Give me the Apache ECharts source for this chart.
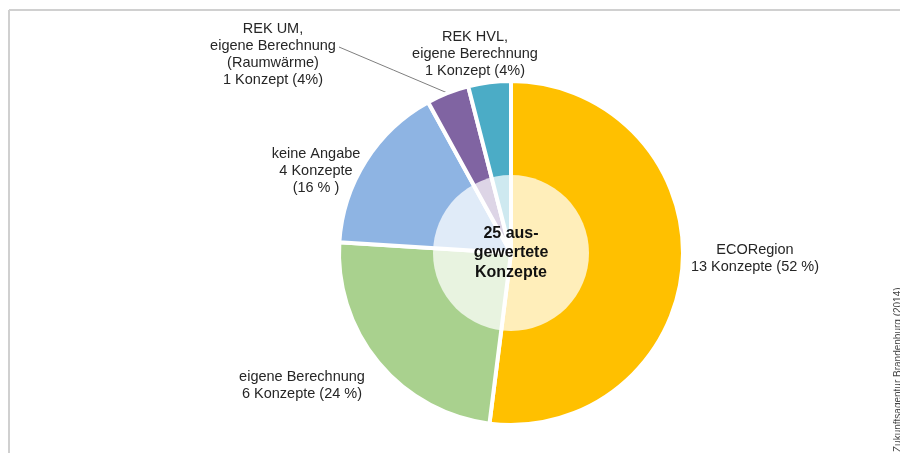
<!DOCTYPE html>
<html><head><meta charset="utf-8">
<script src="https://cdn.jsdelivr.net/npm/echarts@6/dist/echarts.min.js"></script>
<style>html,body{margin:0;padding:0;background:#fff}#c{width:900px;height:453px}</style>
</head><body><div id="c"></div>
<script>
const categories = ['ECORegion', 'eigene Berechnung', 'keine Angabe', 'REK UM, eigene Berechnung (Raumwärme)', 'REK HVL, eigene Berechnung'];
const counts = [13, 6, 4, 1, 1];
const labelTexts = [
  'ECORegion\n13 Konzepte (52 %)',
  'eigene Berechnung\n6 Konzepte (24 %)',
  'keine Angabe\n4 Konzepte\n(16 % )',
  'REK UM,\neigene Berechnung\n(Raumwärme)\n1 Konzept (4%)',
  'REK HVL,\neigene Berechnung\n1 Konzept (4%)'
];
const centerWords = ['aus-', 'gewertete', 'Konzepte'];
const sourceText = 'Zukunftsagentur Brandenburg (2014)';

const colors = ['#FFC000', '#A9D18E', '#8EB4E3', '#8064A2', '#4BACC6'];
const labelAnchors = [[755, 258], [302, 385], [316, 171], [273, 54], [475, 54]];
const total = counts.reduce((a, b) => a + b, 0);
const FONT = 'Liberation Sans, Arial, sans-serif';

const chart = echarts.init(document.getElementById('c'), null, {renderer: 'canvas'});
chart.setOption({
  animation: false,
  backgroundColor: '#ffffff',
  graphic: [
    {type: 'line', silent: true, shape: {x1: 9, y1: 10, x2: 900, y2: 10},
     style: {stroke: '#d0d0d0', lineWidth: 2}},
    {type: 'line', silent: true, shape: {x1: 9, y1: 10, x2: 9, y2: 453},
     style: {stroke: '#d0d0d0', lineWidth: 2}},
    {type: 'text', silent: true, x: 898, y: 452, rotation: Math.PI / 2,
     style: {text: sourceText, fontSize: 10, fill: '#444', align: 'left', verticalAlign: 'middle', fontFamily: FONT}}
  ],
  series: [
    {
      type: 'pie',
      center: [511, 253],
      radius: [0, 172],
      startAngle: 90,
      clockwise: true,
      avoidLabelOverlap: false,
      itemStyle: {borderColor: '#ffffff', borderWidth: 4},
      emphasis: {disabled: true},
      label: {show: true, position: 'outside', fontSize: 14.5, lineHeight: 17, color: '#262626', fontFamily: FONT, align: 'center'},
      labelLine: {show: false, lineStyle: {color: '#7f7f7f', width: 1}},
      data: categories.map((c, i) => ({
        name: c, value: counts[i],
        itemStyle: {color: colors[i]},
        label: {formatter: labelTexts[i]},
        labelLine: {show: i === 3}
      })),
      labelLayout: function (p) {
        const a = labelAnchors[p.dataIndex];
        const r = {x: a[0], y: a[1], align: 'center', verticalAlign: 'middle'};
        if (p.dataIndex === 3 && p.labelLinePoints) {
          const s = p.labelLinePoints[0];
          const e = [339, 47];
          r.labelLinePoints = [s, [(s[0] + e[0]) / 2, (s[1] + e[1]) / 2], e];
        }
        return r;
      }
    },
    {
      type: 'pie',
      silent: true,
      center: [511, 253],
      radius: [0, 78],
      emphasis: {disabled: true},
      itemStyle: {borderWidth: 0},
      labelLine: {show: false},
      label: {show: true, position: 'center', formatter: total + ' ' + centerWords.join('\n'),
              fontSize: 16, fontWeight: 'bold', lineHeight: 19.5, color: '#111', fontFamily: FONT},
      data: [{name: 'Summe', value: total, itemStyle: {color: 'rgba(255,255,255,0.73)'}}]
    }
  ]
});
</script>
</body></html>
